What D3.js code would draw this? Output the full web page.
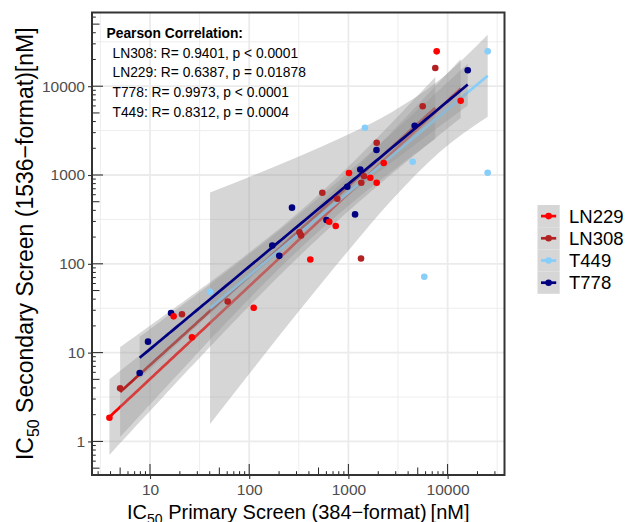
<!DOCTYPE html>
<html><head><meta charset="utf-8">
<script src="https://cdn.jsdelivr.net/npm/d3@7"></script>
<style>body{margin:0;background:#fff;} svg{display:block;font-family:"Liberation Sans",Arial,sans-serif;}</style>
</head><body><svg id="c" width="630" height="522"></svg>
<script>
// ---- data ----
const seriesNames = ["LN229", "LN308", "T449", "T778"];
const seriesColors = ["#ff0000", "#b22222", "#87cefa", "#000080"];

const ln229X = [3.9, 17.3, 26.5, 111, 413, 641, 745, 1014, 1663, 1928, 2270, 7760, 13550];
const ln229Y = [1.85, 25.6, 14.9, 32, 112, 298, 267, 1053, 933, 819, 1365, 24700, 6870];
const ln308X = [5.0, 21, 60.7, 321, 333, 546, 773, 1340, 1349, 1436, 1928, 5610, 7510];
const ln308Y = [3.96, 27, 37.6, 227, 209, 632, 541, 115, 819, 967, 2310, 5940, 16030];
const t449X = [40.3, 1469, 4446, 5820, 25350, 25350];
const t449Y = [48.5, 3410, 1412, 71.6, 24700, 1061];
const t778X = [7.87, 9.55, 16.3, 171, 201, 270, 601, 975, 1167, 1318, 1919, 4656, 15960];
const t778Y = [5.89, 13.3, 27.9, 161, 123, 429, 311, 738, 360, 1153, 1915, 3590, 15100];

// T449 fit band (several T449 points are hidden under others)
const t449BandX = [40.3, 114, 325, 946, 2752, 8380, 25350];
const t449BandLo = [1.57, 6.95, 30.3, 131, 527, 1830, 4540];
const t449BandHi = [635, 1010, 1641, 2786, 5140, 11880, 38000];

const xTicks = [10, 100, 1000, 10000];
const yTicks = [1, 10, 100, 1000, 10000];
const xDomain = [10 ** 0.4153, 10 ** 4.5736];
const yDomain = [10 ** -0.378, 10 ** 4.830];

const corrTitle = "Pearson Correlation:";
const corrLines = [
  "LN308: R= 0.9401, p < 0.0001",
  "LN229: R= 0.6387, p = 0.01878",
  "T778: R= 0.9973, p < 0.0001",
  "T449: R= 0.8312, p = 0.0004"
];

// ---- layout ----
const P = {l: 92, r: 504.5, t: 12.5, b: 475};
const svg = d3.select("#c");
const x = d3.scaleLog().domain(xDomain).range([P.l, P.r]);
const y = d3.scaleLog().domain(yDomain).range([P.b, P.t]);

svg.append("rect").attr("width", 630).attr("height", 522).attr("fill", "#fff");
svg.append("defs").append("clipPath").attr("id", "clip")
  .append("rect").attr("x", P.l).attr("y", P.t).attr("width", P.r - P.l).attr("height", P.b - P.t);

// grid
const g = svg.append("g");
const xMinor = xTicks.map(v => v / Math.sqrt(10)).concat([xTicks[xTicks.length - 1] * Math.sqrt(10)])
  .filter(v => v > xDomain[0] && v < xDomain[1]);
const yMinor = yTicks.map(v => v * Math.sqrt(10)).concat([yTicks[0] / Math.sqrt(10)])
  .filter(v => v > yDomain[0] && v < yDomain[1]);
g.selectAll(".xmin").data(xMinor).join("line").attr("x1", d => x(d)).attr("x2", d => x(d))
  .attr("y1", P.t).attr("y2", P.b).attr("stroke", "#ebebeb").attr("stroke-width", 0.9);
g.selectAll(".ymin").data(yMinor).join("line").attr("y1", d => y(d)).attr("y2", d => y(d))
  .attr("x1", P.l).attr("x2", P.r).attr("stroke", "#ebebeb").attr("stroke-width", 0.9);
g.selectAll(".xmaj").data(xTicks).join("line").attr("x1", d => x(d)).attr("x2", d => x(d))
  .attr("y1", P.t).attr("y2", P.b).attr("stroke", "#ebebeb").attr("stroke-width", 1.8);
g.selectAll(".ymaj").data(yTicks).join("line").attr("y1", d => y(d)).attr("y2", d => y(d))
  .attr("x1", P.l).attr("x2", P.r).attr("stroke", "#ebebeb").attr("stroke-width", 1.8);

// regression helpers
function tq(df) {
  const z = 1.959964;
  return z + (z ** 3 + z) / (4 * df) + (5 * z ** 5 + 16 * z ** 3 + 3 * z) / (96 * df ** 2)
    + (3 * z ** 7 + 19 * z ** 5 + 17 * z ** 3 - 15 * z) / (384 * df ** 3);
}
function lmBand(xs, ys) {
  const lx = xs.map(Math.log10), ly = ys.map(Math.log10);
  const N = lx.length, mx = d3.mean(lx), my = d3.mean(ly);
  let sxx = 0, sxy = 0;
  lx.forEach((v, i) => { sxx += (v - mx) ** 2; sxy += (v - mx) * (ly[i] - my); });
  const b = sxy / sxx, a = my - b * mx;
  let sse = 0; lx.forEach((v, i) => { sse += (ly[i] - a - b * v) ** 2; });
  const s = Math.sqrt(sse / (N - 2)), t = tq(N - 2);
  const [x0, x1] = d3.extent(lx);
  return d3.range(80).map(i => {
    const u = x0 + (x1 - x0) * i / 79, f = a + b * u;
    const se = s * Math.sqrt(1 / N + (u - mx) ** 2 / sxx);
    return {x: 10 ** u, fit: 10 ** f, lo: 10 ** (f - t * se), hi: 10 ** (f + t * se)};
  });
}
const t449Band = t449BandX.map((v, i) => ({x: v, lo: t449BandLo[i], hi: t449BandHi[i],
  fit: Math.sqrt(t449BandLo[i] * t449BandHi[i])}));

const bands = [lmBand(ln229X, ln229Y), lmBand(ln308X, ln308Y), t449Band, lmBand(t778X, t778Y)];

const plot = svg.append("g").attr("clip-path", "url(#clip)");
const area = d3.area().x(d => x(d.x)).y0(d => y(d.lo)).y1(d => y(d.hi)).curve(d3.curveMonotoneX);
const line = d3.line().x(d => x(d.x)).y(d => y(d.fit)).curve(d3.curveMonotoneX);
bands.forEach((b, i) => {
  plot.append("path").datum(b).attr("d", area).attr("fill", "#999999").attr("fill-opacity", 0.4);
  plot.append("path").datum(b).attr("d", line).attr("fill", "none")
    .attr("stroke", seriesColors[i]).attr("stroke-width", 2.7);
});

// points
const pts = [[ln229X, ln229Y], [ln308X, ln308Y], [t449X, t449Y], [t778X, t778Y]];
[2, 3, 1, 0].forEach(i => {
  const [xs, ys] = pts[i];
  plot.append("g").selectAll("circle").data(xs.map((v, j) => [v, ys[j]])).join("circle")
    .attr("cx", d => x(d[0])).attr("cy", d => y(d[1])).attr("r", 3.3).attr("fill", seriesColors[i]);
});

// log ticks inside panel
function logVals(dom) {
  const out = [];
  for (let d = Math.floor(Math.log10(dom[0])); d <= Math.ceil(Math.log10(dom[1])); d++)
    for (let k = 1; k <= 9; k++) { const v = k * 10 ** d; if (v >= dom[0] && v <= dom[1]) out.push({v, k}); }
  return out;
}
const tlen = k => k === 1 ? 11 : (k === 5 ? 7.5 : 3.8);
svg.append("g").selectAll("line").data(logVals(xDomain)).join("line")
  .attr("x1", d => x(d.v)).attr("x2", d => x(d.v)).attr("y1", P.b).attr("y2", d => P.b - tlen(d.k))
  .attr("stroke", "#222").attr("stroke-width", 1);
svg.append("g").selectAll("line").data(logVals(yDomain)).join("line")
  .attr("y1", d => y(d.v)).attr("y2", d => y(d.v)).attr("x1", P.l).attr("x2", d => P.l + tlen(d.k))
  .attr("stroke", "#222").attr("stroke-width", 1);

// panel border
svg.append("rect").attr("x", P.l).attr("y", P.t).attr("width", P.r - P.l).attr("height", P.b - P.t)
  .attr("fill", "none").attr("stroke", "#333").attr("stroke-width", 2);

// axes (outer ticks and labels)
const fmt = d => String(d);
const xAxis = svg.append("g").attr("transform", `translate(0,${P.b})`)
  .call(d3.axisBottom(x).tickValues(xTicks).tickFormat(fmt).tickSize(4).tickSizeOuter(0).tickPadding(5));
const yAxis = svg.append("g").attr("transform", `translate(${P.l},0)`)
  .call(d3.axisLeft(y).tickValues(yTicks).tickFormat(fmt).tickSize(4).tickSizeOuter(0).tickPadding(3));
[xAxis, yAxis].forEach(a => {
  a.select(".domain").remove();
  a.selectAll(".tick line").attr("stroke", "#333").attr("stroke-width", 1.1);
  a.selectAll(".tick text").attr("fill", "#4d4d4d").attr("font-size", "15.5px")
    .attr("font-family", "Liberation Sans, Arial, sans-serif");
});

// axis titles
const xt = svg.append("text").attr("x", (P.l + P.r) / 2).attr("y", 519).attr("text-anchor", "middle")
  .attr("font-size", "20px").attr("fill", "#000");
xt.append("tspan").text("IC");
xt.append("tspan").attr("font-size", "14px").attr("dy", "5").text("50");
xt.append("tspan").attr("dy", "-5").text(" Primary Screen (384\u2212format)\u2009[nM]");

const yt = svg.append("text").attr("transform", `translate(33,${(P.t + P.b) / 2}) rotate(-90)`)
  .attr("text-anchor", "middle").attr("font-size", "23px").attr("fill", "#000");
yt.append("tspan").text("IC");
yt.append("tspan").attr("font-size", "16px").attr("dy", "6").text("50");
yt.append("tspan").attr("dy", "-6").text(" Secondary Screen (1536\u2212format)[nM]");

// correlation annotation
svg.append("text").attr("x", 106.5).attr("y", 38).attr("font-size", "13.8px").attr("font-weight", "bold")
  .text(corrTitle);
svg.append("g").selectAll("text").data(corrLines).join("text")
  .attr("x", 112.5).attr("y", (d, i) => 57.7 + i * 19.7).attr("font-size", "13.8px").attr("fill", "#000")
  .text(d => d);

// legend
const kx = 537.5, ky = 205, ks = 22.2;
const lg = svg.append("g");
seriesNames.forEach((n, i) => {
  const cy = ky + ks * i + ks / 2;
  lg.append("rect").attr("x", kx).attr("y", ky + ks * i).attr("width", ks).attr("height", ks)
    .attr("fill", "#d6d6d6");
  lg.append("line").attr("x1", kx + 3.5).attr("x2", kx + ks - 3.5).attr("y1", cy).attr("y2", cy)
    .attr("stroke", seriesColors[i]).attr("stroke-width", 2.7);
  lg.append("circle").attr("cx", kx + ks / 2).attr("cy", cy).attr("r", 3.3).attr("fill", seriesColors[i]);
  lg.append("text").attr("x", 569).attr("y", cy).attr("dy", "0.36em").attr("font-size", "18.5px")
    .attr("fill", "#000").text(n);
});
</script>
</body></html>
